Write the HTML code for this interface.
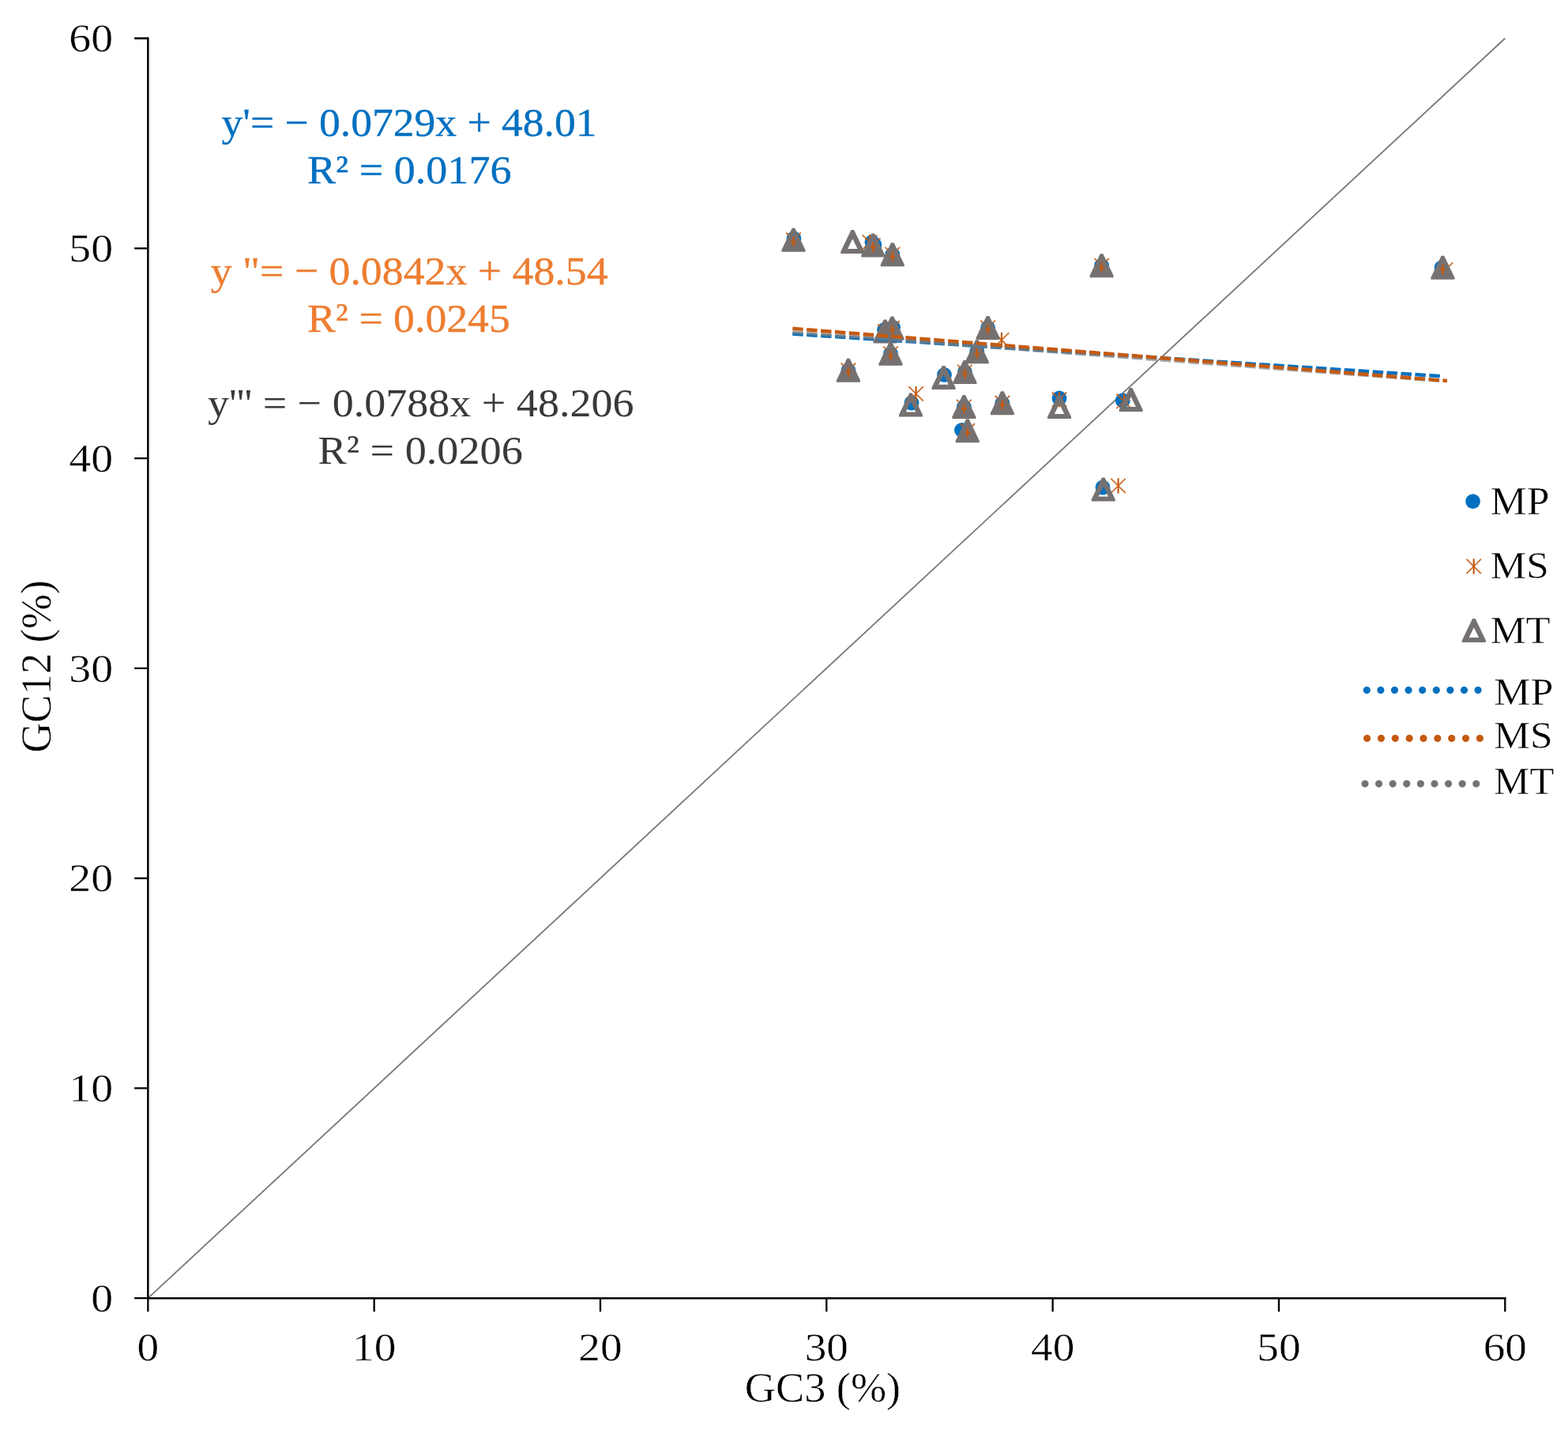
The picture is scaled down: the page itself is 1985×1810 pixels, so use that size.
<!DOCTYPE html>
<html><head><meta charset="utf-8"><title>GC12 vs GC3</title>
<style>
html,body{margin:0;padding:0;background:#fff;}
body{width:1985px;height:1810px;overflow:hidden;}
svg{display:block;}
text{font-family:"Liberation Serif","Times New Roman",serif;stroke:currentColor;stroke-width:0.3px;}
text.k{stroke:#fff;stroke-width:0.45px;}
text.g{stroke:none;}
</style></head>
<body>
<svg width="1985" height="1810" viewBox="0 0 1985 1810">
<rect width="1985" height="1810" fill="#fff"/>
<line x1="187.35" y1="1643.2" x2="1905.3" y2="48.5" stroke="#777" stroke-width="1.8"/>
<circle cx="1005.0" cy="302.0" r="9.4" fill="#0070C0"/>
<circle cx="1104.0" cy="306.5" r="9.4" fill="#0070C0"/>
<circle cx="1107.0" cy="310.0" r="9.4" fill="#0070C0"/>
<circle cx="1129.8" cy="322.2" r="9.4" fill="#0070C0"/>
<circle cx="1394.6" cy="336.2" r="9.4" fill="#0070C0"/>
<circle cx="1825.0" cy="339.0" r="9.4" fill="#0070C0"/>
<circle cx="1119.6" cy="417.5" r="9.4" fill="#0070C0"/>
<circle cx="1130.5" cy="414.5" r="9.4" fill="#0070C0"/>
<circle cx="1127.5" cy="447.7" r="9.4" fill="#0070C0"/>
<circle cx="1074.0" cy="468.8" r="9.4" fill="#0070C0"/>
<circle cx="1250.6" cy="415.0" r="9.4" fill="#0070C0"/>
<circle cx="1236.8" cy="445.2" r="9.4" fill="#0070C0"/>
<circle cx="1221.4" cy="471.0" r="9.4" fill="#0070C0"/>
<circle cx="1195.5" cy="474.5" r="9.4" fill="#0070C0"/>
<circle cx="1154.0" cy="510.0" r="9.4" fill="#0070C0"/>
<circle cx="1220.4" cy="515.1" r="9.4" fill="#0070C0"/>
<circle cx="1268.9" cy="510.3" r="9.4" fill="#0070C0"/>
<circle cx="1217.5" cy="544.3" r="9.4" fill="#0070C0"/>
<circle cx="1341.0" cy="504.0" r="9.4" fill="#0070C0"/>
<circle cx="1421.3" cy="507.0" r="9.4" fill="#0070C0"/>
<circle cx="1396.0" cy="617.0" r="9.4" fill="#0070C0"/>
<path d="M1004.5 294.2V313.4" stroke="#C55A11" stroke-width="2.2" fill="none"/><path d="M995.2 294.5L1013.8 313.1M1013.8 294.5L995.2 313.1" stroke="#C55A11" stroke-width="1.9" stroke-opacity="0.85" fill="none"/>
<path d="M1101.0 297.0V316.2" stroke="#C55A11" stroke-width="2.2" fill="none"/><path d="M1091.7 297.3L1110.3 315.9M1110.3 297.3L1091.7 315.9" stroke="#C55A11" stroke-width="1.9" stroke-opacity="0.85" fill="none"/>
<path d="M1105.3 301.0V320.2" stroke="#C55A11" stroke-width="2.2" fill="none"/><path d="M1096.0 301.3L1114.6 319.9M1114.6 301.3L1096.0 319.9" stroke="#C55A11" stroke-width="1.9" stroke-opacity="0.85" fill="none"/>
<path d="M1129.8 312.6V331.8" stroke="#C55A11" stroke-width="2.2" fill="none"/><path d="M1120.5 312.9L1139.1 331.5M1139.1 312.9L1120.5 331.5" stroke="#C55A11" stroke-width="1.9" stroke-opacity="0.85" fill="none"/>
<path d="M1394.6 326.6V345.8" stroke="#C55A11" stroke-width="2.2" fill="none"/><path d="M1385.3 326.9L1403.9 345.5M1403.9 326.9L1385.3 345.5" stroke="#C55A11" stroke-width="1.9" stroke-opacity="0.85" fill="none"/>
<path d="M1830.0 331.9V351.1" stroke="#C55A11" stroke-width="2.2" fill="none"/><path d="M1820.7 332.2L1839.3 350.8M1839.3 332.2L1820.7 350.8" stroke="#C55A11" stroke-width="1.9" stroke-opacity="0.85" fill="none"/>
<path d="M1120.5 410.0V429.2" stroke="#C55A11" stroke-width="2.2" fill="none"/><path d="M1111.2 410.3L1129.8 428.9M1129.8 410.3L1111.2 428.9" stroke="#C55A11" stroke-width="1.9" stroke-opacity="0.85" fill="none"/>
<path d="M1129.5 405.7V424.9" stroke="#C55A11" stroke-width="2.2" fill="none"/><path d="M1120.2 406.0L1138.8 424.6M1138.8 406.0L1120.2 424.6" stroke="#C55A11" stroke-width="1.9" stroke-opacity="0.85" fill="none"/>
<path d="M1127.5 438.1V457.3" stroke="#C55A11" stroke-width="2.2" fill="none"/><path d="M1118.2 438.4L1136.8 457.0M1136.8 438.4L1118.2 457.0" stroke="#C55A11" stroke-width="1.9" stroke-opacity="0.85" fill="none"/>
<path d="M1074.0 459.2V478.4" stroke="#C55A11" stroke-width="2.2" fill="none"/><path d="M1064.7 459.5L1083.3 478.1M1083.3 459.5L1064.7 478.1" stroke="#C55A11" stroke-width="1.9" stroke-opacity="0.85" fill="none"/>
<path d="M1250.6 405.4V424.6" stroke="#C55A11" stroke-width="2.2" fill="none"/><path d="M1241.3 405.7L1259.9 424.3M1259.9 405.7L1241.3 424.3" stroke="#C55A11" stroke-width="1.9" stroke-opacity="0.85" fill="none"/>
<path d="M1236.8 435.6V454.8" stroke="#C55A11" stroke-width="2.2" fill="none"/><path d="M1227.5 435.9L1246.1 454.5M1246.1 435.9L1227.5 454.5" stroke="#C55A11" stroke-width="1.9" stroke-opacity="0.85" fill="none"/>
<path d="M1221.4 461.4V480.6" stroke="#C55A11" stroke-width="2.2" fill="none"/><path d="M1212.1 461.7L1230.7 480.3M1230.7 461.7L1212.1 480.3" stroke="#C55A11" stroke-width="1.9" stroke-opacity="0.85" fill="none"/>
<path d="M1159.6 488.8V508.0" stroke="#C55A11" stroke-width="2.2" fill="none"/><path d="M1150.3 489.1L1168.9 507.7M1168.9 489.1L1150.3 507.7" stroke="#C55A11" stroke-width="1.9" stroke-opacity="0.85" fill="none"/>
<path d="M1268.0 420.8V440.0" stroke="#C55A11" stroke-width="2.2" fill="none"/><path d="M1258.7 421.1L1277.3 439.7M1277.3 421.1L1258.7 439.7" stroke="#C55A11" stroke-width="1.9" stroke-opacity="0.85" fill="none"/>
<path d="M1220.4 505.5V524.7" stroke="#C55A11" stroke-width="2.2" fill="none"/><path d="M1211.1 505.8L1229.7 524.4M1229.7 505.8L1211.1 524.4" stroke="#C55A11" stroke-width="1.9" stroke-opacity="0.85" fill="none"/>
<path d="M1268.9 500.7V519.9" stroke="#C55A11" stroke-width="2.2" fill="none"/><path d="M1259.6 501.0L1278.2 519.6M1278.2 501.0L1259.6 519.6" stroke="#C55A11" stroke-width="1.9" stroke-opacity="0.85" fill="none"/>
<path d="M1224.8 535.7V554.9" stroke="#C55A11" stroke-width="2.2" fill="none"/><path d="M1215.5 536.0L1234.1 554.6M1234.1 536.0L1215.5 554.6" stroke="#C55A11" stroke-width="1.9" stroke-opacity="0.85" fill="none"/>
<path d="M1341.1 496.1V515.3" stroke="#C55A11" stroke-width="2.2" fill="none"/><path d="M1331.8 496.4L1350.4 515.0M1350.4 496.4L1331.8 515.0" stroke="#C55A11" stroke-width="1.9" stroke-opacity="0.85" fill="none"/>
<path d="M1422.8 498.2V517.4" stroke="#C55A11" stroke-width="2.2" fill="none"/><path d="M1413.5 498.5L1432.1 517.1M1432.1 498.5L1413.5 517.1" stroke="#C55A11" stroke-width="1.9" stroke-opacity="0.85" fill="none"/>
<path d="M1415.6 605.3V624.5" stroke="#C55A11" stroke-width="2.2" fill="none"/><path d="M1406.3 605.6L1424.9 624.2M1424.9 605.6L1406.3 624.2" stroke="#C55A11" stroke-width="1.9" stroke-opacity="0.85" fill="none"/>
<path d="M1002.7 288.8L1006.3 288.8L1019.5 316.3L1019.5 318.8L989.5 318.8L989.5 316.3Z" fill="#767171"/><path d="M1004.5 299.9V312.1M1001.2 306.2H1007.8" stroke="#C55A11" stroke-width="2.3" fill="none"/>
<path d="M1077.5 291.0L1081.1 291.0L1094.3 318.5L1094.3 321.0L1064.3 321.0L1064.3 318.5ZM1073.1 314.9L1085.5 314.9L1079.7 302.9L1078.9 302.9Z" fill="#767171" fill-rule="evenodd"/>
<path d="M1103.5 295.6L1107.1 295.6L1120.3 323.1L1120.3 325.6L1090.3 325.6L1090.3 323.1Z" fill="#767171"/><path d="M1105.3 306.7V318.9M1102.0 313.0H1108.6" stroke="#C55A11" stroke-width="2.3" fill="none"/>
<path d="M1128.0 307.2L1131.6 307.2L1144.8 334.7L1144.8 337.2L1114.8 337.2L1114.8 334.7Z" fill="#767171"/><path d="M1129.8 318.3V330.5M1126.5 324.6H1133.1" stroke="#C55A11" stroke-width="2.3" fill="none"/>
<path d="M1392.8 321.2L1396.4 321.2L1409.6 348.7L1409.6 351.2L1379.6 351.2L1379.6 348.7Z" fill="#767171"/><path d="M1394.6 332.3V344.5M1391.3 338.6H1397.9" stroke="#C55A11" stroke-width="2.3" fill="none"/>
<path d="M1824.6 323.7L1828.2 323.7L1841.4 351.2L1841.4 353.7L1811.4 353.7L1811.4 351.2Z" fill="#767171"/><path d="M1826.4 334.8V347.0M1823.1 341.1H1829.7" stroke="#C55A11" stroke-width="2.3" fill="none"/>
<path d="M1118.7 404.6L1122.3 404.6L1135.5 432.1L1135.5 434.6L1105.5 434.6L1105.5 432.1Z" fill="#767171"/><path d="M1120.5 415.7V427.9M1117.2 422.0H1123.8" stroke="#C55A11" stroke-width="2.3" fill="none"/>
<path d="M1127.7 400.5L1131.3 400.5L1144.5 428.0L1144.5 430.5L1114.5 430.5L1114.5 428.0Z" fill="#767171"/><path d="M1129.5 411.6V423.8M1126.2 417.9H1132.8" stroke="#C55A11" stroke-width="2.3" fill="none"/>
<path d="M1125.7 432.7L1129.3 432.7L1142.5 460.2L1142.5 462.7L1112.5 462.7L1112.5 460.2Z" fill="#767171"/><path d="M1127.5 443.8V456.0M1124.2 450.1H1130.8" stroke="#C55A11" stroke-width="2.3" fill="none"/>
<path d="M1072.2 453.8L1075.8 453.8L1089.0 481.3L1089.0 483.8L1059.0 483.8L1059.0 481.3Z" fill="#767171"/><path d="M1074.0 464.9V477.1M1070.7 471.2H1077.3" stroke="#C55A11" stroke-width="2.3" fill="none"/>
<path d="M1248.8 400.0L1252.4 400.0L1265.6 427.5L1265.6 430.0L1235.6 430.0L1235.6 427.5Z" fill="#767171"/><path d="M1250.6 411.1V423.3M1247.3 417.4H1253.9" stroke="#C55A11" stroke-width="2.3" fill="none"/>
<path d="M1235.0 430.2L1238.6 430.2L1251.8 457.7L1251.8 460.2L1221.8 460.2L1221.8 457.7Z" fill="#767171"/><path d="M1236.8 441.3V453.5M1233.5 447.6H1240.1" stroke="#C55A11" stroke-width="2.3" fill="none"/>
<path d="M1219.6 456.0L1223.2 456.0L1236.4 483.5L1236.4 486.0L1206.4 486.0L1206.4 483.5Z" fill="#767171"/><path d="M1221.4 467.1V479.3M1218.1 473.4H1224.7" stroke="#C55A11" stroke-width="2.3" fill="none"/>
<path d="M1192.8 462.9L1196.4 462.9L1209.6 490.4L1209.6 492.9L1179.6 492.9L1179.6 490.4ZM1188.4 486.8L1200.8 486.8L1195.0 474.8L1194.2 474.8Z" fill="#767171" fill-rule="evenodd"/>
<path d="M1151.2 497.6L1154.8 497.6L1168.0 525.1L1168.0 527.6L1138.0 527.6L1138.0 525.1ZM1146.8 521.5L1159.2 521.5L1153.4 509.5L1152.6 509.5Z" fill="#767171" fill-rule="evenodd"/>
<path d="M1218.6 500.1L1222.2 500.1L1235.4 527.6L1235.4 530.1L1205.4 530.1L1205.4 527.6Z" fill="#767171"/><path d="M1220.4 511.2V523.4M1217.1 517.5H1223.7" stroke="#C55A11" stroke-width="2.3" fill="none"/>
<path d="M1267.1 495.3L1270.7 495.3L1283.9 522.8L1283.9 525.3L1253.9 525.3L1253.9 522.8Z" fill="#767171"/><path d="M1268.9 506.4V518.6M1265.6 512.7H1272.2" stroke="#C55A11" stroke-width="2.3" fill="none"/>
<path d="M1223.0 530.3L1226.6 530.3L1239.8 557.8L1239.8 560.3L1209.8 560.3L1209.8 557.8Z" fill="#767171"/><path d="M1224.8 541.4V553.6M1221.5 547.7H1228.1" stroke="#C55A11" stroke-width="2.3" fill="none"/>
<path d="M1339.3 500.1L1342.9 500.1L1356.1 527.6L1356.1 530.1L1326.1 530.1L1326.1 527.6ZM1334.9 524.0L1347.3 524.0L1341.5 512.0L1340.7 512.0Z" fill="#767171" fill-rule="evenodd"/>
<path d="M1429.9 491.1L1433.5 491.1L1446.7 518.6L1446.7 521.1L1416.7 521.1L1416.7 518.6ZM1425.5 515.0L1437.9 515.0L1432.1 503.0L1431.3 503.0Z" fill="#767171" fill-rule="evenodd"/>
<path d="M1395.0 604.5L1398.6 604.5L1411.8 632.0L1411.8 634.5L1381.8 634.5L1381.8 632.0ZM1390.6 628.4L1403.0 628.4L1397.2 616.4L1396.4 616.4Z" fill="#767171" fill-rule="evenodd"/>
<line x1="1003.30" y1="422.60" x2="1822.90" y2="476.10" stroke="#0070C0" stroke-width="4.5" stroke-dasharray="13.45 4.5"/>
<line x1="1003.30" y1="420.40" x2="1822.90" y2="481.80" stroke="#7F7F7F" stroke-width="4.5" stroke-dasharray="13.45 4.5" stroke-opacity="0.7"/>
<line x1="1003.30" y1="415.80" x2="1832.00" y2="482.00" stroke="#C55A11" stroke-width="4.5" stroke-dasharray="13.45 4.5"/>
<path d="M187.35 47.3V1643.2H1906.5" stroke="#000" stroke-width="2.5" fill="none"/>
<path d="M170.1 48.50H187.35M187.35 1643.2V1660.3M170.1 314.28H187.35M473.67 1643.2V1660.3M170.1 580.07H187.35M760.00 1643.2V1660.3M170.1 845.85H187.35M1046.33 1643.2V1660.3M170.1 1111.63H187.35M1332.65 1643.2V1660.3M170.1 1377.42H187.35M1618.97 1643.2V1660.3M170.1 1643.20H187.35M1905.30 1643.2V1660.3" stroke="#000" stroke-width="2.3" fill="none"/>
<text class="k" transform="translate(87.25,65.34) scale(1.0848,1)" font-size="51.41" fill="#000" color="#000">60</text>
<text class="k" transform="translate(87.25,331.12) scale(1.0848,1)" font-size="51.41" fill="#000" color="#000">50</text>
<text class="k" transform="translate(87.25,596.90) scale(1.0848,1)" font-size="51.41" fill="#000" color="#000">40</text>
<text class="k" transform="translate(87.25,862.69) scale(1.0848,1)" font-size="51.41" fill="#000" color="#000">30</text>
<text class="k" transform="translate(87.25,1128.47) scale(1.0848,1)" font-size="51.41" fill="#000" color="#000">20</text>
<text class="k" transform="translate(87.25,1394.25) scale(1.0848,1)" font-size="51.41" fill="#000" color="#000">10</text>
<text class="k" transform="translate(115.13,1660.04) scale(1.0848,1)" font-size="51.41" fill="#000" color="#000">0</text>
<text class="k" transform="translate(173.52,1722.49) scale(1.0858,1)" font-size="50.96" fill="#000" color="#000">0</text>
<text class="k" transform="translate(446.01,1722.49) scale(1.0858,1)" font-size="50.96" fill="#000" color="#000">10</text>
<text class="k" transform="translate(732.33,1722.49) scale(1.0858,1)" font-size="50.96" fill="#000" color="#000">20</text>
<text class="k" transform="translate(1018.66,1722.49) scale(1.0858,1)" font-size="50.96" fill="#000" color="#000">30</text>
<text class="k" transform="translate(1304.98,1722.49) scale(1.0858,1)" font-size="50.96" fill="#000" color="#000">40</text>
<text class="k" transform="translate(1591.31,1722.49) scale(1.0858,1)" font-size="50.96" fill="#000" color="#000">50</text>
<text class="k" transform="translate(1877.63,1722.49) scale(1.0858,1)" font-size="50.96" fill="#000" color="#000">60</text>
<text class="k" transform="translate(942.78,1774.08) scale(1.0211,1)" font-size="53.14" fill="#000" color="#000">GC3 (%)</text>
<text class="k" transform="translate(63.69,952.87) rotate(-90) scale(0.9778,1)" font-size="54.02" fill="#000" color="#000">GC12 (%)</text>
<text transform="translate(280.46,172.09) scale(1.0604,1)" font-size="50.52" fill="#0070C0" color="#0070C0">y'= − 0.0729x + 48.01</text>
<text transform="translate(389.03,231.80) scale(1.0797,1)" font-size="50.07" fill="#0070C0" color="#0070C0">R² = 0.0176</text>
<text transform="translate(266.65,360.29) scale(1.0465,1)" font-size="51.41" fill="#ED7D31" color="#ED7D31">y &quot;= − 0.0842x + 48.54</text>
<text transform="translate(389.04,420.29) scale(1.0511,1)" font-size="51.11" fill="#ED7D31" color="#ED7D31">R² = 0.0245</text>
<text class="g" transform="translate(262.95,527.29) scale(1.0578,1)" font-size="51.11" fill="#3B3838" color="#3B3838">y''' = − 0.0788x + 48.206</text>
<text class="g" transform="translate(402.53,587.39) scale(1.0550,1)" font-size="51.41" fill="#3B3838" color="#3B3838">R² = 0.0206</text>
<circle cx="1864.6" cy="634.6" r="9.4" fill="#0070C0"/>
<path d="M1865.7 707.3V726.5" stroke="#C55A11" stroke-width="2.2" fill="none"/><path d="M1856.4 707.6L1875.0 726.2M1875.0 707.6L1856.4 726.2" stroke="#C55A11" stroke-width="1.9" stroke-opacity="0.85" fill="none"/>
<path d="M1864.1 783.1L1867.7 783.1L1880.9 810.6L1880.9 813.1L1850.9 813.1L1850.9 810.6ZM1859.7 807.0L1872.1 807.0L1866.3 795.0L1865.5 795.0Z" fill="#767171" fill-rule="evenodd"/>
<text class="k" transform="translate(1886.70,650.80) scale(1.0382,1)" font-size="49.77" fill="#000" color="#000">MP</text>
<text class="k" transform="translate(1886.82,732.00) scale(1.0444,1)" font-size="49.01" fill="#000" color="#000">MS</text>
<text class="k" transform="translate(1886.83,813.60) scale(1.0233,1)" font-size="49.47" fill="#000" color="#000">MT</text>
<line x1="1730.3" y1="873.6" x2="1872.1" y2="873.6" stroke="#0070C0" stroke-width="9.2" stroke-linecap="round" stroke-dasharray="0 17.6"/>
<line x1="1730.6" y1="934.6" x2="1874.3999999999999" y2="934.6" stroke="#C55A11" stroke-width="9.2" stroke-linecap="round" stroke-dasharray="0 17.85"/>
<line x1="1728.0" y1="992.1" x2="1869.8" y2="992.1" stroke="#737373" stroke-width="9.2" stroke-linecap="round" stroke-dasharray="0 17.6"/>
<text class="k" transform="translate(1891.29,891.90) scale(1.0669,1)" font-size="48.70" fill="#000" color="#000">MP</text>
<text class="k" transform="translate(1891.31,947.40) scale(1.0603,1)" font-size="48.55" fill="#000" color="#000">MS</text>
<text class="k" transform="translate(1891.33,1005.40) scale(1.0422,1)" font-size="48.70" fill="#000" color="#000">MT</text>
</svg>
</body></html>
